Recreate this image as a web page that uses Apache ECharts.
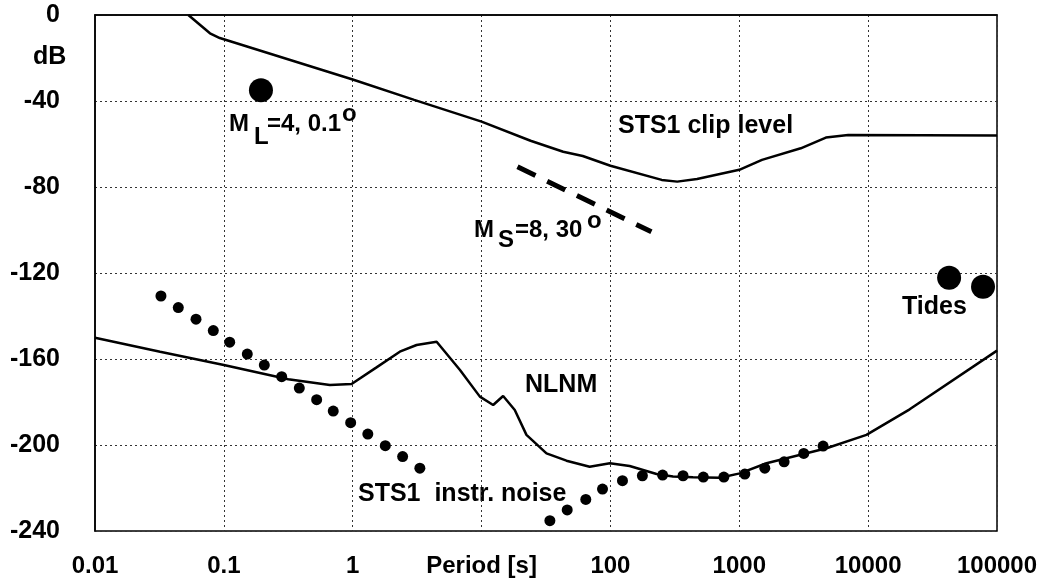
<!DOCTYPE html>
<html>
<head>
<meta charset="utf-8">
<script src="https://cdn.jsdelivr.net/npm/echarts@6/dist/echarts.min.js"></script>
<style>
  html, body { margin: 0; padding: 0; background: #fff; }
  #chart { width: 1042px; height: 584px; }
</style>
</head>
<body>
<div id="chart"></div>
<script>
var chart = echarts.init(document.getElementById('chart'));

// x tick labels, one per decade (0.01 ... 100000)
var xTickLabels = ['0.01', '0.1', '1', 'Period [s]', '100', '1000', '10000', '100000'];

// STS1 clip level
var clipPeriod = [0.053, 0.078, 0.093, 1, 3, 10, 24, 43, 61, 100, 250, 330, 470, 850, 1000, 1500, 3000, 4700, 7000, 100000];
var clipDb = [0, -8.5, -10.7, -30, -39.5, -49.6, -58.5, -63.6, -65.6, -70.1, -76.7, -77.5, -76.3, -72.9, -72, -67.4, -62, -57, -55.8, -56];

// NLNM
var nlnmPeriod = [0.01, 0.032, 0.1, 0.316, 0.665, 0.98, 1.53, 2.32, 3.13, 4.48, 6.8, 9.7, 12.3, 14.7, 18.1, 22.3, 31.9, 45.6, 69, 99, 141, 228, 306, 438, 706, 1010, 1626, 4750, 9700, 21000, 100000];
var nlnmDb = [-150.1, -156.6, -162.8, -169.4, -172.1, -171.6, -163.9, -156.6, -153.5, -152, -165.1, -177.5, -181.4, -177.2, -183.7, -195.3, -203.9, -207.3, -210.1, -208.5, -209.8, -213.5, -214.7, -215, -215.2, -213.2, -208.5, -201.5, -195.3, -183.4, -156.1];

// STS1 instrument noise (dots)
var noisePeriod = [0.0325, 0.0443, 0.0608, 0.0828, 0.111, 0.152, 0.206, 0.281, 0.385, 0.525, 0.706, 0.964, 1.31, 1.79, 2.44, 3.32,
                   33.9, 46.2, 64.4, 86.8, 124, 177, 254, 366, 526, 759, 1104, 1578, 2228, 3165, 4470];
var noiseDb = [-130.7, -136.1, -141.5, -146.8, -152.2, -157.7, -162.8, -168.2, -173.5, -178.9, -184.2, -189.6, -194.9, -200.3, -205.4, -210.8,
               -235.2, -230.2, -225.3, -220.5, -216.6, -214.3, -214, -214.3, -214.9, -214.9, -213.5, -210.8, -207.8, -203.9, -200.5];

// Ms=8 event (dashed)
var msPeriod = [19, 208];
var msDb = [-70.6, -100.8];

// ML=4 event and tides (big dots)
var eventPeriod = [0.194, 42500, 77900];
var eventDb = [-35, -122.2, -126.4];

function pairs(xs, ys) {
    return xs.map(function (x, i) { return [x, ys[i]]; });
}

var FONT = '"Liberation Sans", Arial, Helvetica, sans-serif';

function txt(left, y, text, size) {
    return {
        type: 'text',
        x: left,
        y: y,
        style: {
            text: text,
            font: 'bold ' + size + 'px ' + FONT,
            fill: '#000',
            align: 'left',
            verticalAlign: 'middle',
            textAlign: 'left',
            textVerticalAlign: 'middle'
        }
    };
}

var option = {
    animation: false,
    backgroundColor: '#fff',
    grid: {
        left: 95,
        right: 45,
        top: 15,
        bottom: 53,
        show: true,
        borderColor: '#000',
        borderWidth: 1.5,
        backgroundColor: 'transparent'
    },
    xAxis: {
        type: 'log',
        logBase: 10,
        min: 0.01,
        max: 100000,
        axisLine: { show: true, lineStyle: { color: '#000', width: 1.5 } },
        axisTick: { show: false },
        axisLabel: {
            margin: 23,
            color: '#000',
            fontSize: 24,
            fontWeight: 'bold',
            fontFamily: FONT,
            formatter: function (v) {
                return xTickLabels[Math.round(Math.log10(v)) + 2];
            }
        },
        splitLine: { show: true, lineStyle: { color: '#333', type: [2, 3], width: 1 } },
        minorSplitLine: { show: false }
    },
    yAxis: {
        type: 'value',
        min: -240,
        max: 0,
        interval: 40,
        axisLine: { show: true, lineStyle: { color: '#000', width: 1.5 } },
        axisTick: { show: false },
        axisLabel: {
            margin: 35,
            color: '#000',
            fontSize: 25,
            fontWeight: 'bold',
            fontFamily: FONT
        },
        splitLine: { show: true, lineStyle: { color: '#333', type: [2, 3], width: 1 } }
    },
    graphic: [
        txt(33, 57, 'dB', 25),
        txt(618, 126.5, 'STS1 clip level', 25),
        txt(525, 385, 'NLNM', 25),
        txt(358, 494, 'STS1  instr. noise', 25),
        txt(902, 307.5, 'Tides', 25),
        txt(229, 124.5, 'M', 24),
        txt(254, 137.5, 'L', 24),
        txt(267, 124.5, '=4, 0.1', 24),
        txt(342, 114, 'o', 24),
        txt(474, 230, 'M', 24),
        txt(498, 240.5, 'S', 24),
        txt(515, 230, '=8, 30', 24),
        txt(587, 221, 'o', 24)
    ],
    series: [
        {
            name: 'STS1 clip level',
            type: 'line',
            data: pairs(clipPeriod, clipDb),
            showSymbol: false,
            lineStyle: { color: '#000', width: 2.5 }
        },
        {
            name: 'NLNM',
            type: 'line',
            data: pairs(nlnmPeriod, nlnmDb),
            showSymbol: false,
            lineStyle: { color: '#000', width: 2.5 }
        },
        {
            name: 'STS1 instr. noise',
            type: 'scatter',
            data: pairs(noisePeriod, noiseDb),
            symbol: 'circle',
            symbolSize: 11,
            itemStyle: { color: '#000', opacity: 1 }
        },
        {
            name: 'Ms=8',
            type: 'line',
            data: pairs(msPeriod, msDb),
            showSymbol: false,
            lineStyle: { color: '#000', width: 5, type: [20, 13], cap: 'butt' }
        },
        {
            name: 'events',
            type: 'scatter',
            data: pairs(eventPeriod, eventDb),
            symbol: 'circle',
            symbolSize: 24,
            itemStyle: { color: '#000', opacity: 1 },
            clip: false
        }
    ]
};

chart.setOption(option);
</script>
</body>
</html>
